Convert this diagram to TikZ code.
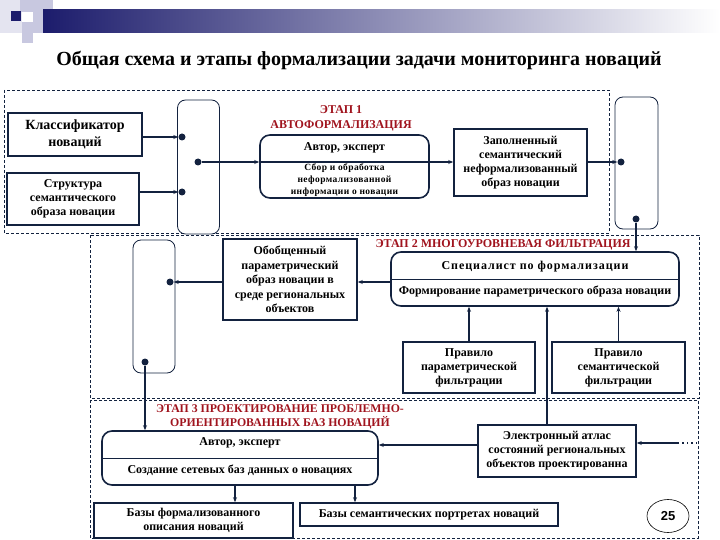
\documentclass[tikz,border=0pt]{standalone}
\usepackage{fontspec}
\setmainfont{Liberation Serif}
\setsansfont{Liberation Sans}
\usetikzlibrary{arrows.meta,shapes.geometric}
\definecolor{navy}{HTML}{13223F}
\definecolor{stagered}{HTML}{A0141E}
\definecolor{hdrblue}{HTML}{1C1C6C}
\definecolor{hdrlav}{HTML}{C8C8E0}
\definecolor{hdrpale}{HTML}{E4E4F0}
\newcommand{\fsz}[2]{\fontsize{#1}{#2}\selectfont}
\begin{document}
\begin{tikzpicture}[x=1pt,y=-1pt,
  box/.style={draw=navy, line width=1.6pt, fill=white, align=center, inner sep=1pt, font=\bfseries\fsz{12}{13.8}},
  rbox/.style={draw=navy, line width=1.6pt, fill=white, rounded corners=10pt},
  bar/.style={draw=navy, line width=0.8pt, rounded corners=8pt, fill=white},
  region/.style={draw=navy, line width=0.7pt, dash pattern=on 3pt off 2pt},
  conn/.style={draw=navy, line width=1.4pt},
  arr/.style={conn, -{Stealth[length=5pt,width=4pt]}},
  dotn/.style={circle, fill=navy, inner sep=0pt, minimum size=7pt},
  stage/.style={text=stagered, font=\bfseries\fsz{12}{15}, align=center},
  txt/.style={align=center, font=\bfseries\fsz{12}{13}}
]
\useasboundingbox (0,0) rectangle (720,540);
% header decoration
\fill[hdrpale] (0,0) rectangle (22,33);
\fill[hdrlav] (20,0) rectangle (53,12);
\fill[hdrlav] (22,22) rectangle (33,43);
\fill[hdrlav] (33,10) rectangle (43,33);
\shade[left color=hdrblue, middle color=hdrlav!80!hdrblue, right color=white] (43,10) rectangle (720,33);
\fill[hdrblue] (11,11) rectangle (21,21);
% title
\node[font=\bfseries\fsz{20}{22}] (title) at (359,60) {Общая схема и этапы формализации задачи мониторинга новаций};
% regions
\draw[region] (4,90) rectangle (609,233);
\draw[region] (90,235) rectangle (699,398);
\draw[region] (90,400) rectangle (698,538);
% bars
\node[bar, minimum width=42pt, minimum height=134pt] (barA) at (198.5,167) {};
\node[bar, minimum width=43pt, minimum height=132pt] (barB) at (636.5,163) {};
\node[bar, minimum width=42pt, minimum height=133pt] (barC) at (154,306.5) {};
% stage 1
\node[box, minimum width=134pt, minimum height=43pt, font=\bfseries\fsz{14}{17}] (cls) at (75,134.5) {Классификатор\\новаций};
\node[box, minimum width=132pt, minimum height=52pt, font=\bfseries\fsz{12}{14}] (str) at (73,199) {Структура\\семантического\\образа новации};
\node[stage] (st1) at (341,118.5) {ЭТАП 1\\АВТОФОРМАЛИЗАЦИЯ};
\node[rbox, minimum width=169pt, minimum height=63pt] (a1) at (344.5,166.5) {};
\node[txt] (a1t) at (344.5,148) {Автор, эксперт};
\node[txt, font=\bfseries\fsz{9.5}{11.8}\addfontfeature{LetterSpace=4}] (a1b) at (344.5,180) {Сбор и обработка\\неформализованной\\информации о новации};
\node[box, minimum width=133pt, minimum height=67pt] (zap) at (520.5,162.5) {Заполненный\\семантический\\неформализованный\\образ новации};
% stage 2
\node[stage] (st2) at (503,245) {ЭТАП 2 МНОГОУРОВНЕВАЯ ФИЛЬТРАЦИЯ};
\node[rbox, minimum width=288pt, minimum height=54pt] (spec) at (535,279) {};
\node[txt, font=\bfseries\fsz{12}{13}\addfontfeature{LetterSpace=8}] (spect) at (535,267) {Специалист по формализации};
\node[txt] (specb) at (535,291) {Формирование параметрического образа новации};
\node[box, minimum width=134pt, minimum height=81pt, font=\bfseries\fsz{12}{14.5}] (obob) at (290,279.5) {Обобщенный\\параметрический\\образ новации в\\среде региональных\\объектов};
\node[box, minimum width=132pt, minimum height=51pt, font=\bfseries\fsz{12}{14}] (pr1) at (469,367.5) {Правило\\параметрической\\фильтрации};
\node[box, minimum width=133pt, minimum height=51pt, font=\bfseries\fsz{12}{14}] (pr2) at (618.5,367.5) {Правило\\семантической\\фильтрации};
% stage 3
\node[stage, font=\bfseries\fsz{11.8}{14}] (st3) at (280,416.5) {ЭТАП 3 ПРОЕКТИРОВАНИЕ ПРОБЛЕМНО-\\ОРИЕНТИРОВАННЫХ БАЗ НОВАЦИЙ};
\node[rbox, minimum width=276pt, minimum height=54pt] (a3) at (240,458) {};
\node[txt] (a3t) at (240,443) {Автор, эксперт};
\node[txt] (a3b) at (240,470) {Создание сетевых баз данных о новациях};
\node[box, minimum width=158pt, minimum height=52pt, font=\bfseries\fsz{12}{14}] (el) at (557,451) {Электронный атлас\\состояний региональных\\объектов проектированна};
\node[box, minimum width=199pt, minimum height=35pt, font=\bfseries\fsz{12}{14}] (b1) at (193.5,520.5) {Базы формализованного\\описания новаций};
\node[box, minimum width=258pt, minimum height=23pt, font=\bfseries\fsz{12}{14}] (b2) at (429,514.5) {Базы семантических портретах новаций};
\node[draw=black, line width=0.6pt, ellipse, minimum width=42pt, minimum height=33pt, font=\sffamily\bfseries\fsz{13}{15}] (pg) at (668,516) {25};
% dividers
\draw[draw=navy, line width=1pt] (spec.west) -- (spec.east);
\draw[draw=navy, line width=1pt] (a3.west) -- (a3.east);
% dots
\node[dotn] (dA1) at (182,137) {};
\node[dotn] (dA2) at (182,192) {};
\node[dotn] (dA3) at (198,162) {};
\node[dotn] (dB1) at (621,162) {};
\node[dotn] (dB2) at (636,219) {};
\node[dotn] (dC1) at (170,282) {};
\node[dotn] (dC2) at (145,362) {};
% connectors
\draw[arr] (cls.east |- dA1) -- (dA1.west);
\draw[arr] (str.east |- dA2) -- (dA2.west);
\draw[arr] (dA3) -- (dA3 -| a1.west);
\draw[conn] (a1.west |- dA3) -- (a1.east |- dA3);
\draw[arr] (a1.east |- dA3) -- (zap.west |- dA3);
\draw[arr] (zap.east |- dB1) -- (dB1.west);
\draw[arr] (dB2) -- (dB2 |- spec.north);
\draw[arr] (spec.west |- dC1) -- (obob.east |- dC1);
\draw[arr] (obob.west |- dC1) -- (dC1.east);
\draw[arr] (dC2) -- (dC2 |- a3.north);
\draw[arr] (pr1.north) -- (pr1.north |- spec.south);
\draw[arr] (pr2.north) -- (pr2.north |- spec.south);
\draw[arr] ([xshift=-10pt]el.north) -- ([xshift=-10pt]el.north |- spec.south);
\draw[arr] ([yshift=6pt]el.west) -- ([yshift=6pt]el.west -| a3.east);
\coordinate (rin) at (697,443);
\draw[draw=navy, line width=1.4pt, dash pattern=on 1.5pt off 3pt] (rin) -- ++(-18,0) coordinate (rmid);
\draw[arr] (rmid) -- (rmid -| el.east);
\draw[arr] ([xshift=-5pt]a3.south) -- ([xshift=-5pt]a3.south |- b1.north);
\draw[arr] ([xshift=115pt]a3.south) -- ([xshift=115pt]a3.south |- b2.north);
\end{tikzpicture}
\end{document}
